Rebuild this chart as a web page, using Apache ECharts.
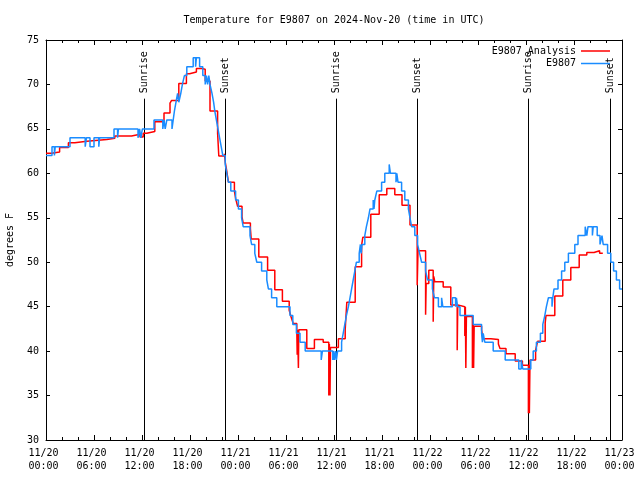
<!DOCTYPE html>
<html>
<head>
<meta charset="utf-8">
<script src="https://cdn.jsdelivr.net/npm/echarts@6/dist/echarts.min.js"></script>
<style>html,body{margin:0;padding:0;background:#fff}#c{width:640px;height:480px}</style>
</head>
<body>
<div id="c"></div>
<script>
// hours since 2024-11-20 00:00 UTC
const xTickLabels = ['11/20\n00:00','11/20\n06:00','11/20\n12:00','11/20\n18:00',
  '11/21\n00:00','11/21\n06:00','11/21\n12:00','11/21\n18:00',
  '11/22\n00:00','11/22\n06:00','11/22\n12:00','11/22\n18:00','11/23\n00:00'];
const yTicks = [30,35,40,45,50,55,60,65,70,75];
const seriesNames = ['E9807 Analysis', 'E9807'];
const sunTimes = [12.29, 22.42, 36.29, 46.41, 60.29, 70.46];
const sunLabels = ['Sunrise','Sunset','Sunrise','Sunset','Sunrise','Sunset'];

// E9807 Analysis (red), [hour, degF], value holds until next point
const analysis = [
 [0,62.25],[0.7,62.4],[1.7,62.9],[2.8,63.45],[3.6,63.6],[5.1,63.8],[7.6,63.95],[8.6,64.2],
 [10.7,64.4],[11.75,64.1],[12.15,64.5],[12.6,64.7],[13.6,65.8],[14.75,66.8],[15.5,67.9],[15.7,68.2],
 [16.6,70.1],[17.55,71.2],[17.95,71.4],[18.8,71.8],[19.45,71.7],[19.9,70.4],[20.5,67.0],
 [21.45,64.5],[21.6,61.95],[22.3,62.2],[22.4,61.3],[22.55,60.5],[22.8,59.0],[23.55,58.0],
 [23.7,57.2],[23.95,56.3],[24.5,55.1],[24.65,54.4],[25.55,53.8],[25.65,52.6],[26.6,50.6],
 [27.7,49.1],[28.6,46.9],[29.55,45.6],[30.4,44.6],[30.65,43.8],[30.9,43.1],[31.35,42.4],
 [31.4,39.6],[31.45,42.4],[31.55,38.1],[31.6,42.4],[32.6,40.3],[33.55,41.3],[34.65,41.0],
 [35.35,35.0],[35.42,40.8],[35.5,35.0],[35.56,40.4],[36.55,41.4],[37.4,42.4],[37.6,45.5],
 [38.65,49.5],[39.45,51.9],[39.6,52.8],[40.6,55.4],[41.65,57.6],[42.6,58.3],[43.6,57.6],
 [44.5,56.4],[45.5,54.2],[46.4,47.4],[46.5,51.3],[47.45,44.1],[47.52,47.6],[47.85,49.1],
 [48.4,43.3],[48.47,48.4],[48.6,47.8],[49.65,47.2],[50.6,45.2],[51.4,40.1],[51.47,45.2],
 [51.55,45.0],[52.35,41.7],[52.42,45.0],[52.48,38.1],[52.55,43.9],[53.3,38.1],[53.4,43.0],
 [53.45,38.1],[53.52,42.8],[54.45,42.4],[54.6,41.4],[55.6,41.3],[56.55,40.8],[56.75,40.3],
 [57.5,39.7],[58.65,38.9],[59.55,38.4],[60.3,33.0],[60.35,38.4],[60.42,33.0],[60.5,39.0],
 [61.2,40.1],[61.45,41.1],[62.4,43.2],[62.5,44.0],[63.6,46.2],[64.6,48.0],[65.6,49.4],
 [66.65,50.8],[67.6,51.1],[68.5,51.3],[69.2,51.0],[69.6,51.0]
];

// E9807 observations (blue)
const observed = [
 [0,62],[0.75,63],[1.05,62],[1.15,63],[3.0,64],[4.9,63],[5.05,64],[5.5,63],[6.0,64],[6.6,63],
 [6.7,64],[8.5,65],[8.95,64],[9.05,65],[11.5,64],[11.7,65],[11.85,64],[12.05,65],[13.5,66],
 [14.6,65],[14.75,66],[14.9,65],[15.1,66],[15.75,65],[15.9,66],[16.05,67],[16.25,68],[16.45,69],
 [16.6,68],[16.85,69],[17.05,70],[17.3,71],[17.6,72],[18.4,73],[18.7,72],[18.8,73],[19.2,72],
 [19.6,71],[19.9,70],[20.05,71],[20.2,70],[20.35,71],[20.5,70],[20.75,69],[20.95,68],[21.1,67],
 [21.3,66],[21.5,65],[21.7,64],[21.9,63],[22.1,62],[22.4,61],[22.6,60],[22.8,59],[23.1,58],
 [23.7,57],[24.05,56],[24.45,55],[24.65,54],[25.5,53],[25.7,52],[26.1,51],[26.35,50],[26.95,49],
 [27.6,48],[27.8,47],[28.2,46],[28.85,45],[30.5,44],[30.85,43],[31.3,42],[31.75,41],[32.4,40],
 [34.4,39],[34.55,40],[35.85,39],[35.95,40],[36.05,39],[36.2,40],[36.3,39],[36.45,40],[36.95,41],
 [37.15,42],[37.35,43],[37.55,44],[37.8,45],[38.0,46],[38.2,47],[38.4,48],[38.6,49],[38.8,50],
 [39.15,51],[39.3,52],[39.4,51],[39.5,52],[39.85,53],[40.05,54],[40.3,55],[40.5,56],[40.9,57],
 [41.0,56],[41.1,57],[41.35,58],[41.95,59],[42.35,60],[42.9,61],[43.05,60],[43.75,59],[43.85,60],
 [44.0,59],[44.45,58],[44.85,57],[45.3,56],[45.5,55],[45.7,54],[46.1,53],[46.45,52],[46.7,51],
 [46.95,50],[47.45,49],[47.7,48],[48.3,47],[48.55,46],[49.05,45],[49.45,46],[49.6,45],[50.8,46],
 [51.2,45],[51.3,46],[51.45,45],[51.75,44],[53.4,43],[54.45,42],[54.55,41],[54.65,42],[54.85,41],
 [55.9,40],[57.4,39],[59.1,38],[59.4,39],[59.6,38],[60.6,39],[60.9,40],[61.3,41],[61.8,42],
 [62.1,43],[62.35,44],[62.55,45],[62.8,46],[63.25,45],[63.35,46],[63.5,47],[64.0,48],[64.45,49],
 [64.85,50],[65.3,51],[66.1,52],[66.5,53],[67.4,54],[67.6,53],[67.75,54],[68.3,53],[68.4,54],
 [68.9,53],[69.25,52],[69.5,53],[69.65,52],[70.2,51],[70.6,50],[70.95,49],[71.3,48],[71.7,47],[72,47]
];

const FONT = 'DejaVu Sans Mono';
const chart = echarts.init(document.getElementById('c'), null, {renderer:'canvas'});

const xBase = {
  type:'value', min:0, max:72, interval:6,
  axisLine:{show:true, onZero:false, lineStyle:{color:'#000', width:1}},
  axisTick:{show:true, inside:true, length:5, lineStyle:{color:'#000'}},
  minorTick:{show:true, splitNumber:3, length:3, lineStyle:{color:'#000'}},
  splitLine:{show:false}, minorSplitLine:{show:false}
};
const yBase = {
  type:'value', min:yTicks[0], max:yTicks[yTicks.length-1], interval:5,
  axisLine:{show:true, onZero:false, lineStyle:{color:'#000', width:1}},
  axisTick:{show:true, inside:true, length:4, lineStyle:{color:'#000'}},
  splitLine:{show:false}
};

chart.setOption({
  animation:false,
  backgroundColor:'#fff',
  title:{
    text:'Temperature for E9807 on 2024-Nov-20 (time in UTC)',
    left:334, top:15, textAlign:'center', padding:0,
    textStyle:{fontFamily:FONT, fontSize:10, fontWeight:'normal', color:'#000'}
  },
  legend:[
    {data:[seriesNames[0]], right:30, top:46, align:'right', orient:'vertical', padding:0,
     icon:'rect', itemWidth:29, itemHeight:1.5, selectedMode:false,
     textStyle:{fontFamily:FONT, fontSize:10, color:'#000'}},
    {data:[seriesNames[1]], right:30, top:58.5, align:'right', orient:'vertical', padding:0,
     icon:'rect', itemWidth:29, itemHeight:1.5, selectedMode:false,
     textStyle:{fontFamily:FONT, fontSize:10, color:'#000'}}
  ],
  grid:{left:46, right:18, top:40, bottom:40, containLabel:false, outerBoundsMode:'none'},
  xAxis:[
    Object.assign({}, xBase, {position:'bottom',
      axisLabel:{show:true, formatter:(v)=>xTickLabels[Math.round(v/6)], fontFamily:FONT, fontSize:10,
                 color:'#000', lineHeight:13, margin:7, padding:[0,5,0,0]}}),
    Object.assign({}, xBase, {position:'top', axisLabel:{show:false}})
  ],
  yAxis:[
    Object.assign({}, yBase, {position:'left', name:'degrees F', nameLocation:'middle', nameGap:31,
      nameTextStyle:{fontFamily:FONT, fontSize:10, color:'#000'},
      axisLabel:{show:true, fontFamily:FONT, fontSize:10, color:'#000', margin:7}}),
    Object.assign({}, yBase, {position:'right', axisLabel:{show:false}})
  ],
  series:[
    {
      type:'custom', name:'sun', xAxisIndex:0, yAxisIndex:0, silent:true, z:1,
      data: sunTimes.map(t=>[t]),
      renderItem:(params, api)=>{
        const t = api.value(0);
        const p0 = api.coord([t, 30]);
        const p1 = api.coord([t, 68.4]);
        const pt = api.coord([t, 69.0]);
        const xx = Math.round(p0[0]) + 0.5;
        return {type:'group', children:[
          {type:'line', shape:{x1:xx, y1:p0[1], x2:xx, y2:p1[1]}, style:{stroke:'#000', lineWidth:1}},
          {type:'text', x:xx, y:pt[1], rotation:Math.PI/2,
           style:{text:sunLabels[params.dataIndex], font:'10px "DejaVu Sans Mono"', fill:'#000',
                  align:'left', verticalAlign:'middle'}}
        ]};
      }
    },
    {
      type:'line', name:seriesNames[0], data:analysis, step:'end', showSymbol:false, symbol:'none',
      lineStyle:{color:'#ff0000', width:1.5}, itemStyle:{color:'#ff0000'}, z:2
    },
    {
      type:'line', name:seriesNames[1], data:observed, step:'end', showSymbol:false, symbol:'none',
      lineStyle:{color:'#1a8cff', width:1.5}, itemStyle:{color:'#1a8cff'}, z:3
    }
  ]
});
</script>
</body>
</html>
